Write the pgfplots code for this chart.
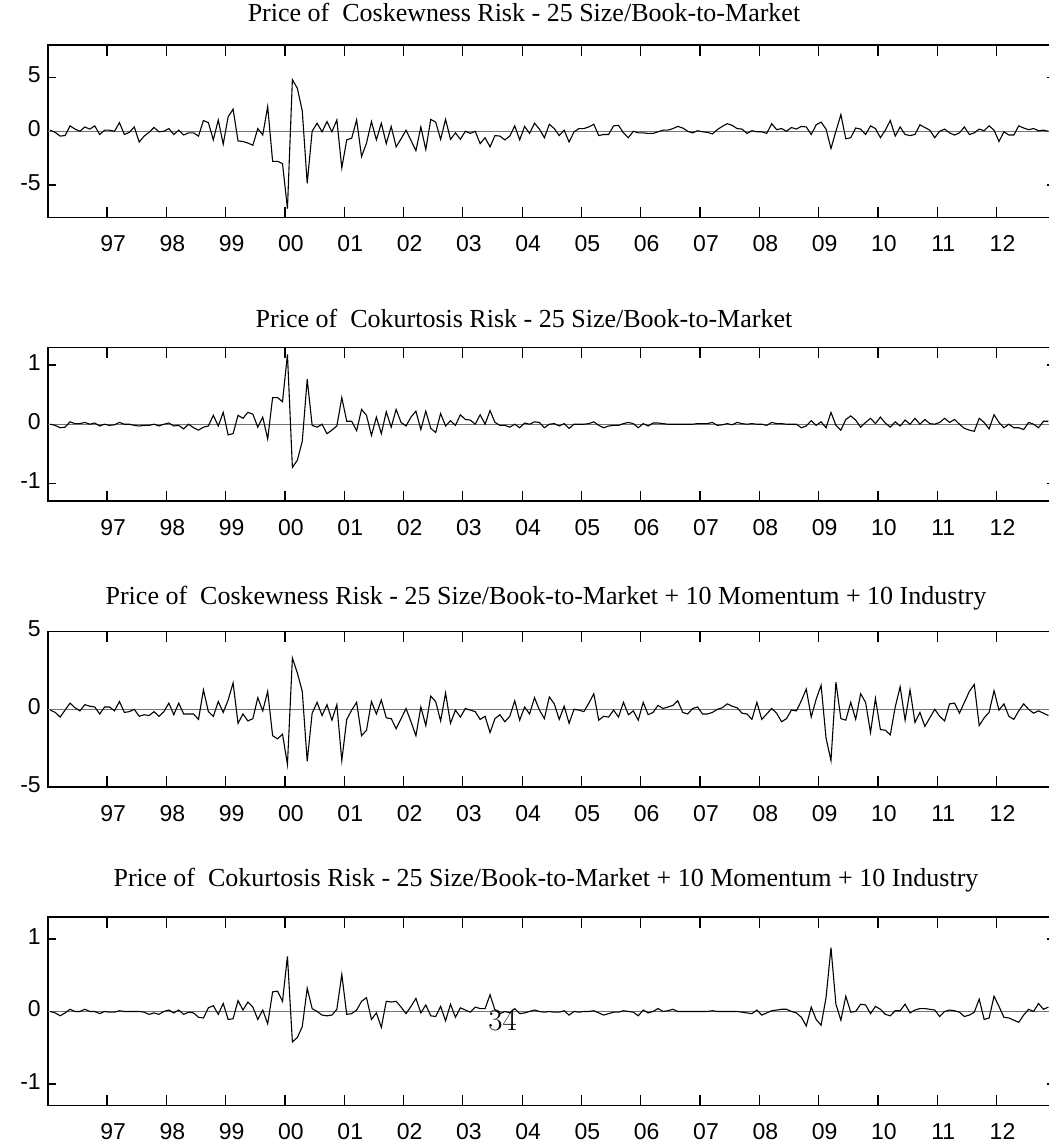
\documentclass[border=0pt]{standalone}
\usepackage{fontspec}
\setsansfont{Liberation Sans}
\newfontfamily\timesfont{Liberation Serif}
\usepackage{pgfplots}
\pgfplotsset{compat=1.18}
\usepackage{pgfplotstable}

% monthly series, Jan 1996 onwards (one value per month)
\pgfplotstableread[row sep=\\]{y\\
0.1\\ -0.1\\ -0.45\\ -0.4\\ 0.5\\ 0.2\\ 0\\ 0.4\\ 0.2\\ 0.5\\ -0.3\\ 0.1\\
0.1\\ 0\\ 0.8\\ -0.3\\ -0.1\\ 0.4\\ -1.0\\ -0.45\\ -0.1\\ 0.35\\ -0.05\\ 0\\
0.25\\ -0.3\\ 0.1\\ -0.35\\ -0.15\\ -0.15\\ -0.45\\ 1.0\\ 0.8\\ -0.8\\ 1.05\\ -1.2\\
1.35\\ 2.05\\ -0.9\\ -0.95\\ -1.1\\ -1.3\\ 0.25\\ -0.35\\ 2.3\\ -2.8\\ -2.8\\ -3.0\\
-7.2\\ 4.8\\ 4.0\\ 1.9\\ -4.85\\ 0\\ 0.75\\ -0.05\\ 0.9\\ -0.05\\ 1.05\\ -3.4\\
-0.8\\ -0.65\\ 1.05\\ -2.35\\ -1.1\\ 0.9\\ -0.8\\ 0.75\\ -1.15\\ 0.45\\ -1.45\\ -0.7\\
0.1\\ -0.85\\ -1.8\\ 0.4\\ -1.7\\ 1.1\\ 0.85\\ -0.75\\ 1.1\\ -0.75\\ -0.15\\ -0.75\\
0\\ -0.2\\ 0\\ -1.15\\ -0.6\\ -1.45\\ -0.4\\ -0.45\\ -0.8\\ -0.45\\ 0.5\\ -0.8\\
0.45\\ -0.2\\ 0.75\\ 0.2\\ -0.6\\ 0.65\\ 0.25\\ -0.4\\ 0.1\\ -1.0\\ -0.05\\ 0.25\\
0.25\\ 0.4\\ 0.65\\ -0.4\\ -0.3\\ -0.3\\ 0.5\\ 0.55\\ -0.15\\ -0.6\\ 0\\ -0.15\\
-0.15\\ -0.2\\ -0.2\\ -0.05\\ 0.1\\ 0.1\\ 0.25\\ 0.45\\ 0.3\\ 0\\ -0.15\\ 0.05\\
-0.05\\ -0.1\\ -0.25\\ 0.15\\ 0.45\\ 0.7\\ 0.55\\ 0.25\\ 0.2\\ -0.2\\ 0.05\\ -0.05\\
-0.05\\ -0.2\\ 0.7\\ 0.15\\ 0.25\\ 0\\ 0.35\\ 0.2\\ 0.45\\ 0.4\\ -0.3\\ 0.6\\
0.85\\ 0.2\\ -1.6\\ 0\\ 1.55\\ -0.7\\ -0.6\\ 0.3\\ 0.2\\ -0.3\\ 0.5\\ 0.25\\
-0.6\\ 0.1\\ 1.0\\ -0.45\\ 0.4\\ -0.3\\ -0.4\\ -0.3\\ 0.6\\ 0.35\\ 0.1\\ -0.6\\
0\\ 0.2\\ -0.15\\ -0.35\\ -0.15\\ 0.4\\ -0.3\\ -0.15\\ 0.2\\ 0.05\\ 0.5\\ 0.1\\
-0.95\\ -0.05\\ -0.35\\ -0.35\\ 0.5\\ 0.3\\ 0.15\\ 0.25\\ 0.05\\ 0.1\\ 0\\
}\coskA

\pgfplotstableread[row sep=\\]{y\\
0\\ -0.02\\ -0.06\\ -0.05\\ 0.04\\ 0.01\\ 0.01\\ 0.03\\ 0\\ 0.02\\ -0.03\\ 0\\
-0.02\\ -0.01\\ 0.03\\ 0\\ 0\\ -0.02\\ -0.03\\ -0.02\\ -0.02\\ 0\\ -0.03\\ 0\\
0.02\\ -0.03\\ -0.02\\ -0.08\\ 0\\ -0.06\\ -0.1\\ -0.05\\ -0.03\\ 0.15\\ -0.03\\ 0.2\\
-0.18\\ -0.16\\ 0.15\\ 0.1\\ 0.2\\ 0.17\\ -0.05\\ 0.12\\ -0.25\\ 0.45\\ 0.45\\ 0.38\\
1.18\\ -0.73\\ -0.61\\ -0.29\\ 0.76\\ -0.02\\ -0.05\\ 0\\ -0.16\\ -0.1\\ -0.03\\ 0.45\\
0.05\\ 0.05\\ -0.11\\ 0.25\\ 0.15\\ -0.19\\ 0.12\\ -0.16\\ 0.21\\ -0.05\\ 0.25\\ 0.03\\
-0.03\\ 0.12\\ 0.22\\ -0.09\\ 0.22\\ -0.07\\ -0.14\\ 0.18\\ -0.03\\ 0.06\\ -0.02\\ 0.16\\
0.08\\ 0.07\\ 0\\ 0.16\\ 0\\ 0.23\\ 0.03\\ -0.02\\ -0.02\\ -0.05\\ 0\\ -0.06\\
0.02\\ 0\\ 0.04\\ 0.03\\ -0.06\\ 0\\ 0.01\\ -0.03\\ 0.01\\ -0.07\\ 0\\ 0\\
0\\ 0.01\\ 0.04\\ -0.02\\ -0.06\\ -0.03\\ -0.02\\ -0.02\\ 0.01\\ 0.03\\ 0.01\\ -0.06\\
0.01\\ -0.03\\ 0.02\\ 0.02\\ 0.01\\ 0\\ 0\\ 0\\ 0\\ 0\\ 0\\ 0.01\\
0.01\\ 0.01\\ 0.03\\ -0.02\\ -0.01\\ 0.01\\ -0.01\\ 0.03\\ 0.01\\ 0\\ 0.01\\ 0\\
0\\ -0.02\\ 0.03\\ 0.01\\ 0.01\\ 0\\ 0\\ 0\\ -0.06\\ -0.03\\ 0.06\\ -0.02\\
0.04\\ -0.06\\ 0.2\\ -0.02\\ -0.1\\ 0.08\\ 0.14\\ 0.07\\ -0.05\\ 0.03\\ 0.1\\ 0.01\\
0.12\\ 0.02\\ -0.05\\ 0.04\\ -0.03\\ 0.07\\ 0\\ 0.1\\ 0\\ 0.08\\ 0.01\\ 0\\
0.03\\ 0.1\\ 0.03\\ 0.08\\ 0\\ -0.07\\ -0.1\\ -0.12\\ 0.1\\ 0.03\\ -0.08\\ 0.16\\
0.03\\ -0.06\\ 0\\ -0.06\\ -0.06\\ -0.09\\ 0.03\\ 0\\ -0.06\\ 0.05\\ 0.05\\
}\cokurtA

\pgfplotstableread[row sep=\\]{y\\
-0.05\\ -0.2\\ -0.5\\ -0.05\\ 0.4\\ 0.1\\ -0.1\\ 0.3\\ 0.2\\ 0.15\\ -0.3\\ 0.15\\
0.15\\ -0.1\\ 0.5\\ -0.2\\ -0.15\\ 0\\ -0.45\\ -0.35\\ -0.4\\ -0.15\\ -0.45\\ -0.15\\
0.4\\ -0.35\\ 0.4\\ -0.3\\ -0.3\\ -0.3\\ -0.65\\ 1.25\\ -0.15\\ -0.45\\ 0.5\\ -0.2\\
0.6\\ 1.7\\ -0.9\\ -0.3\\ -0.75\\ -0.6\\ 0.75\\ -0.1\\ 1.15\\ -1.7\\ -1.9\\ -1.6\\
-3.55\\ 3.3\\ 2.35\\ 1.15\\ -3.35\\ -0.25\\ 0.45\\ -0.4\\ 0.3\\ -0.7\\ 0.3\\ -3.3\\
-0.65\\ -0.05\\ 0.45\\ -1.7\\ -1.35\\ 0.5\\ -0.3\\ 0.6\\ -0.55\\ -0.6\\ -1.25\\ -0.6\\
0.05\\ -0.8\\ -1.7\\ 0.15\\ -1.05\\ 0.85\\ 0.5\\ -0.75\\ 1.05\\ -0.9\\ -0.05\\ -0.5\\
0.05\\ -0.05\\ -0.15\\ -0.65\\ -0.45\\ -1.5\\ -0.6\\ -0.35\\ -0.8\\ -0.45\\ 0.55\\ -0.7\\
0.15\\ -0.3\\ 0.75\\ -0.05\\ -0.6\\ 0.8\\ 0.35\\ -0.65\\ 0.2\\ -0.9\\ 0\\ -0.05\\
-0.15\\ 0.4\\ 1.0\\ -0.7\\ -0.45\\ -0.5\\ -0.05\\ -0.5\\ 0.45\\ -0.35\\ -0.1\\ -0.7\\
0.45\\ -0.35\\ -0.2\\ 0.25\\ 0.05\\ 0.15\\ 0.25\\ 0.55\\ -0.2\\ -0.3\\ 0.05\\ 0.15\\
-0.3\\ -0.3\\ -0.2\\ 0\\ 0.1\\ 0.35\\ 0.2\\ 0.1\\ -0.25\\ -0.3\\ -0.65\\ 0.45\\
-0.65\\ -0.3\\ 0.05\\ -0.25\\ -0.8\\ -0.6\\ -0.05\\ -0.1\\ 0.55\\ 1.3\\ -0.5\\ 0.65\\
1.55\\ -1.85\\ -3.3\\ 1.75\\ -0.6\\ -0.7\\ 0.45\\ -0.65\\ 1.0\\ 0.45\\ -1.5\\ 0.7\\
-1.3\\ -1.35\\ -1.65\\ 0.15\\ 1.45\\ -0.7\\ 1.25\\ -0.85\\ -0.2\\ -1.1\\ -0.55\\ 0\\
-0.45\\ -0.75\\ 0.35\\ 0.4\\ -0.25\\ 0.45\\ 1.15\\ 1.6\\ -1.05\\ -0.55\\ -0.2\\ 1.2\\
-0.05\\ 0.35\\ -0.45\\ -0.65\\ -0.1\\ 0.35\\ 0\\ -0.25\\ -0.1\\ -0.25\\ -0.4\\
}\coskB

\pgfplotstableread[row sep=\\]{y\\
0\\ -0.02\\ -0.06\\ -0.02\\ 0.03\\ 0\\ 0\\ 0.03\\ 0\\ 0\\ -0.03\\ 0\\
-0.01\\ -0.01\\ 0.01\\ 0\\ 0\\ 0\\ 0\\ -0.01\\ -0.04\\ -0.02\\ -0.04\\ 0\\
0.02\\ -0.02\\ 0.02\\ -0.04\\ -0.01\\ -0.02\\ -0.08\\ -0.09\\ 0.05\\ 0.08\\ -0.04\\ 0.11\\
-0.11\\ -0.1\\ 0.15\\ 0.02\\ 0.13\\ 0.06\\ -0.11\\ 0.02\\ -0.17\\ 0.27\\ 0.28\\ 0.14\\
0.76\\ -0.42\\ -0.36\\ -0.21\\ 0.32\\ 0.04\\ 0\\ -0.05\\ -0.06\\ -0.05\\ 0.03\\ 0.51\\
-0.04\\ -0.03\\ 0.02\\ 0.14\\ 0.19\\ -0.11\\ -0.02\\ -0.22\\ 0.14\\ 0.13\\ 0.14\\ 0.06\\
-0.03\\ 0.07\\ 0.18\\ -0.02\\ 0.09\\ -0.06\\ -0.07\\ 0.07\\ -0.13\\ 0.1\\ -0.08\\ 0.05\\
0.02\\ -0.01\\ 0.06\\ 0.04\\ 0.04\\ 0.23\\ 0.02\\ -0.03\\ 0\\ -0.02\\ 0.04\\ -0.03\\
-0.02\\ 0\\ 0.02\\ 0\\ -0.01\\ 0\\ -0.01\\ -0.01\\ 0.01\\ -0.05\\ 0\\ -0.01\\
0\\ 0\\ 0.01\\ -0.02\\ -0.05\\ -0.03\\ -0.01\\ -0.01\\ 0.01\\ 0\\ -0.01\\ -0.06\\
0.02\\ -0.02\\ 0\\ 0.04\\ 0\\ 0.01\\ 0.03\\ 0\\ 0\\ 0\\ 0\\ 0\\
0\\ 0\\ 0.01\\ 0\\ 0\\ 0\\ 0\\ 0\\ -0.01\\ -0.02\\ -0.03\\ 0.02\\
-0.05\\ -0.02\\ 0.01\\ 0.02\\ 0.03\\ 0.03\\ 0\\ -0.02\\ -0.08\\ -0.2\\ 0.06\\ -0.11\\
-0.19\\ 0.19\\ 0.88\\ 0.1\\ -0.12\\ 0.21\\ -0.01\\ 0\\ 0.1\\ 0.09\\ -0.03\\ 0.07\\
0.03\\ -0.04\\ -0.06\\ 0.01\\ 0.01\\ 0.1\\ -0.02\\ 0.02\\ 0.04\\ 0.04\\ 0.03\\ 0.02\\
-0.07\\ 0\\ 0.02\\ 0.01\\ -0.01\\ -0.07\\ -0.05\\ -0.01\\ 0.17\\ -0.11\\ -0.09\\ 0.21\\
0.07\\ -0.08\\ -0.09\\ -0.12\\ -0.15\\ -0.05\\ 0.03\\ 0\\ 0.11\\ 0.03\\ 0.06\\
}\cokurtB

\pgfplotsset{
  panel/.style={
    scale only axis, width=504pt, anchor=south west,
    xmin=0, xmax=204,
    xtick={12,24,...,192},
    xticklabels={97,98,99,00,01,02,03,04,05,06,07,08,09,10,11,12},
    tick align=inside, tick pos=both,
    xtick style={black, line width=0.6pt, /pgfplots/major tick length=5.3pt},
    ytick style={black, line width=0.6pt, /pgfplots/major tick length=4.3pt},
    axis line style={black, line width=0.75pt},
    typeset ticklabels with strut,
    tick label style={font=\sffamily\fontsize{11.5}{13}\selectfont, black},
    xticklabel style={yshift=-4.5pt, xshift=3pt},
    clip=true,
  },
  series/.style={black, line width=0.55pt, no markers},
  zero/.style={black!55, line width=0.55pt, no markers},
}

\begin{document}
\begin{tikzpicture}
\useasboundingbox (0,0) rectangle (524.5pt,-571pt);

\tikzset{ttl/.style={font=\timesfont\fontsize{13}{15}\selectfont, anchor=center}}

\node[ttl] at (262pt,-6pt) {Price of\ \ Coskewness Risk - 25 Size/Book-to-Market};
\begin{axis}[panel, at={(23.9pt,-108.65pt)}, height=86.05pt,
  ymin=-8, ymax=8, ytick={-5,0,5}, yticklabels={-5,0,5}]
\addplot[zero] coordinates {(0,0) (204,0)};
\addplot[series] table[x expr=\coordindex+0.5, y=y] {\coskA};
\end{axis}

\node[ttl] at (262pt,-159pt) {Price of\ \ Cokurtosis Risk - 25 Size/Book-to-Market};
\begin{axis}[panel, at={(23.9pt,-250.55pt)}, height=76.9pt,
  ymin=-1.3, ymax=1.3, ytick={-1,0,1}, yticklabels={-1,0,1}]
\addplot[zero] coordinates {(0,0) (204,0)};
\addplot[series] table[x expr=\coordindex+0.5, y=y] {\cokurtA};
\end{axis}

\node[ttl] at (273pt,-299pt) {Price of\ \ Coskewness Risk - 25 Size/Book-to-Market + 10 Momentum + 10 Industry};
\begin{axis}[panel, at={(23.9pt,-393.45pt)}, height=77.6pt,
  ymin=-5, ymax=5, ytick={-5,0,5}, yticklabels={-5,0,5}]
\addplot[zero] coordinates {(0,0) (204,0)};
\addplot[series] table[x expr=\coordindex+0.5, y=y] {\coskB};
\end{axis}

\node[ttl] at (273pt,-440pt) {Price of\ \ Cokurtosis Risk - 25 Size/Book-to-Market + 10 Momentum + 10 Industry};
\begin{axis}[panel, at={(23.9pt,-552.85pt)}, height=94.25pt,
  ymin=-1.3, ymax=1.3, ytick={-1,0,1}, yticklabels={-1,0,1}]
\addplot[zero] coordinates {(0,0) (204,0)};
\addplot[series] table[x expr=\coordindex+0.5, y=y] {\cokurtB};
\end{axis}

% page number that sits on the last panel
\node[font=\fontsize{15.5}{18}\selectfont] at (251.25pt,-510pt) {34};
\end{tikzpicture}
\end{document}
